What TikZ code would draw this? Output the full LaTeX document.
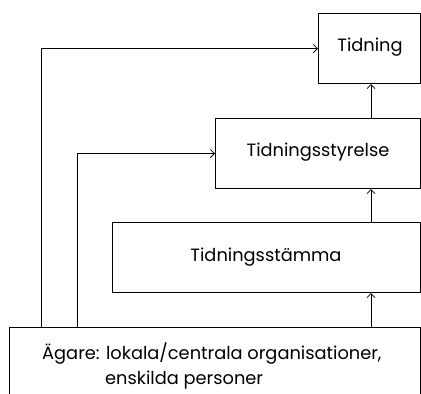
\documentclass[tikz,border=0pt]{standalone}
\usepackage{fontspec}
\setmainfont{Poppins}
\usetikzlibrary{arrows.meta,calc}
\begin{document}
\begin{tikzpicture}[x=1pt,y=-1pt,
  box/.style={draw,line width=1pt,rectangle,inner sep=0pt},
  lbl/.style={font=\fontsize{17.8}{20}\selectfont,inner sep=0pt},
  conn/.style={line width=0.8pt,-{Straight Barb[length=4pt,width=8pt,line width=0.8pt]}}]
\clip (0,0) rectangle (421,394);
\fill[white] (0,0) rectangle (421,394);
\node[box,minimum width=102pt,minimum height=70pt,anchor=north west] (tid) at (318,13) {};
\node[lbl] at (370,47) (tidt) {Tidning};
\node[box,minimum width=205pt,minimum height=70pt,anchor=north west] (sty) at (215,118) {};
\node[lbl] at (318,152) (styt) {Tidningsstyrelse};
\node[box,minimum width=308pt,minimum height=70pt,anchor=north west] (sta) at (112,222) {};
\node[lbl] at (266,257) (stat) {Tidningsstämma};
\node[box,minimum width=411pt,minimum height=80pt,anchor=north west] (ag) at (9,327) {};
\node[lbl,anchor=west] (ag1) at (42,354) {Ägare: lokala/centrala organisationer,};
\node[lbl,anchor=west] (ag2) at (105,380) {enskilda personer};
\coordinate (p1) at (41,327);
\coordinate (p2) at (77,327);
\coordinate (vx) at (371,0);
\draw[conn] (p1) |- (tid.west);
\draw[conn] (p2) |- (sty.west);
\draw[conn] (ag.north -| vx) -- (sta.south -| vx);
\draw[conn] (sta.north -| vx) -- (sty.south -| vx);
\draw[conn] (sty.north -| vx) -- (tid.south -| vx);
\end{tikzpicture}
\end{document}
